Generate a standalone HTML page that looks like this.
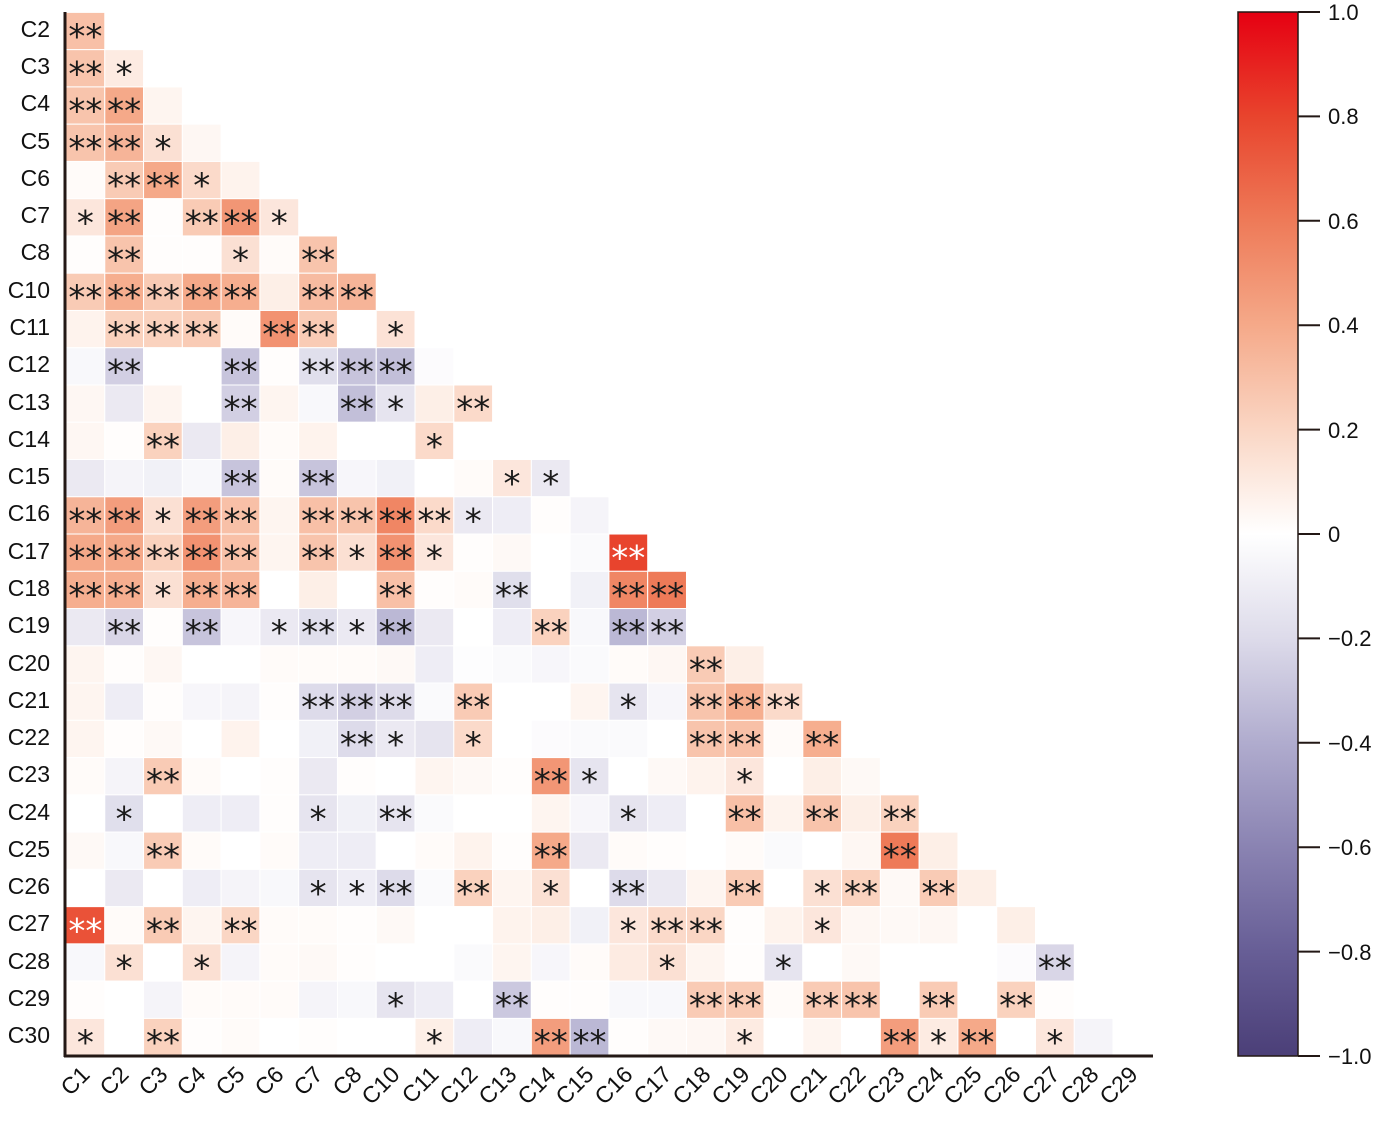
<!DOCTYPE html>
<html><head><meta charset="utf-8">
<style>
html,body{margin:0;padding:0;background:#fff;}
svg{display:block;}
text{font-family:"Liberation Sans",Arial,sans-serif;fill:#111;}
</style></head>
<body>
<svg id="s" width="1382" height="1121" viewBox="0 0 1382 1121" xmlns="http://www.w3.org/2000/svg">
<defs>
<linearGradient id="cb" x1="0" y1="0" x2="0" y2="1">
<stop offset="0" stop-color="#e60012"/>
<stop offset="0.1" stop-color="#e8442d"/>
<stop offset="0.2" stop-color="#ee7a58"/>
<stop offset="0.3" stop-color="#f5a989"/>
<stop offset="0.4" stop-color="#fad6c4"/>
<stop offset="0.5" stop-color="#ffffff"/>
<stop offset="0.6" stop-color="#dddbea"/>
<stop offset="0.7" stop-color="#b0acce"/>
<stop offset="0.8" stop-color="#8a83b2"/>
<stop offset="0.9" stop-color="#675e96"/>
<stop offset="1" stop-color="#4b3f78"/>
</linearGradient>
</defs>
<g id="cells"></g>
<g id="stars"></g>
<line x1="65" y1="12" x2="65" y2="1057" stroke="#231815" stroke-width="3"/>
<line x1="64" y1="1056" x2="1153" y2="1056" stroke="#231815" stroke-width="3"/>
<g font-size="23" text-anchor="end">
<text x="50" y="37">C2</text>
<text x="50" y="74">C3</text>
<text x="50" y="111">C4</text>
<text x="50" y="149">C5</text>
<text x="50" y="186">C6</text>
<text x="50" y="223">C7</text>
<text x="50" y="260">C8</text>
<text x="50" y="298">C10</text>
<text x="50" y="335">C11</text>
<text x="50" y="372">C12</text>
<text x="50" y="410">C13</text>
<text x="50" y="447">C14</text>
<text x="50" y="484">C15</text>
<text x="50" y="521">C16</text>
<text x="50" y="559">C17</text>
<text x="50" y="596">C18</text>
<text x="50" y="633">C19</text>
<text x="50" y="671">C20</text>
<text x="50" y="708">C21</text>
<text x="50" y="745">C22</text>
<text x="50" y="782">C23</text>
<text x="50" y="820">C24</text>
<text x="50" y="857">C25</text>
<text x="50" y="894">C26</text>
<text x="50" y="931">C27</text>
<text x="50" y="969">C28</text>
<text x="50" y="1006">C29</text>
<text x="50" y="1043">C30</text>
</g>
<g font-size="23" text-anchor="end">
<text transform="translate(91,1076) rotate(-45)">C1</text>
<text transform="translate(130,1076) rotate(-45)">C2</text>
<text transform="translate(169,1076) rotate(-45)">C3</text>
<text transform="translate(207,1076) rotate(-45)">C4</text>
<text transform="translate(246,1076) rotate(-45)">C5</text>
<text transform="translate(285,1076) rotate(-45)">C6</text>
<text transform="translate(324,1076) rotate(-45)">C7</text>
<text transform="translate(363,1076) rotate(-45)">C8</text>
<text transform="translate(401,1076) rotate(-45)">C10</text>
<text transform="translate(440,1076) rotate(-45)">C11</text>
<text transform="translate(479,1076) rotate(-45)">C12</text>
<text transform="translate(518,1076) rotate(-45)">C13</text>
<text transform="translate(557,1076) rotate(-45)">C14</text>
<text transform="translate(595,1076) rotate(-45)">C15</text>
<text transform="translate(634,1076) rotate(-45)">C16</text>
<text transform="translate(673,1076) rotate(-45)">C17</text>
<text transform="translate(712,1076) rotate(-45)">C18</text>
<text transform="translate(751,1076) rotate(-45)">C19</text>
<text transform="translate(789,1076) rotate(-45)">C20</text>
<text transform="translate(828,1076) rotate(-45)">C21</text>
<text transform="translate(867,1076) rotate(-45)">C22</text>
<text transform="translate(906,1076) rotate(-45)">C23</text>
<text transform="translate(945,1076) rotate(-45)">C24</text>
<text transform="translate(983,1076) rotate(-45)">C25</text>
<text transform="translate(1022,1076) rotate(-45)">C26</text>
<text transform="translate(1061,1076) rotate(-45)">C27</text>
<text transform="translate(1100,1076) rotate(-45)">C28</text>
<text transform="translate(1139,1076) rotate(-45)">C29</text>
</g>
<rect x="1238" y="12" width="60" height="1044" fill="url(#cb)" stroke="#231815" stroke-width="1.5"/>
<g stroke="#231815" stroke-width="2">
<line x1="1298" y1="12" x2="1320" y2="12"/>
<line x1="1298" y1="116.4" x2="1320" y2="116.4"/>
<line x1="1298" y1="220.8" x2="1320" y2="220.8"/>
<line x1="1298" y1="325.2" x2="1320" y2="325.2"/>
<line x1="1298" y1="429.6" x2="1320" y2="429.6"/>
<line x1="1298" y1="534" x2="1320" y2="534"/>
<line x1="1298" y1="638.4" x2="1320" y2="638.4"/>
<line x1="1298" y1="742.8" x2="1320" y2="742.8"/>
<line x1="1298" y1="847.2" x2="1320" y2="847.2"/>
<line x1="1298" y1="951.6" x2="1320" y2="951.6"/>
<line x1="1298" y1="1056" x2="1320" y2="1056"/>
</g>
<g font-size="22">
<text x="1328" y="20">1.0</text>
<text x="1328" y="124">0.8</text>
<text x="1328" y="229">0.6</text>
<text x="1328" y="333">0.4</text>
<text x="1328" y="438">0.2</text>
<text x="1328" y="542">0</text>
<text x="1328" y="646">−0.2</text>
<text x="1328" y="751">−0.4</text>
<text x="1328" y="855">−0.6</text>
<text x="1328" y="960">−0.8</text>
<text x="1328" y="1064">−1.0</text>
</g>
</svg>
<script>
(function(){
var R=[
"30:2",
"28:2,10:1",
"28:2,40:2,5",
"28:2,35:2,15:1,4",
"2,25:2,40:2,18:1,6",
"12:1,42:2,1,25:2,48:2,12:1",
"1,28:2,1,1,15:1,2,28:2",
"25:2,38:2,25:2,40:2,38:2,8,32:2,35:2",
"6,22:2,22:2,25:2,2,50:2,25:2,0,14:1",
"-4,-25:2,0,0,-30:2,1,-18:2,-30:2,-32:2,-2",
"4,-12,5,0,-25:2,5,-4,-32:2,-15:1,8,18:2",
"4,1,22:2,-12,8,2,6,0,0,18:1,0,0",
"-12,-6,-8,-4,-30:2,2,-30:2,-5,-8,0,2,12:1,-12:1",
"35:2,45:2,15:1,45:2,30:2,5,30:2,28:2,55:2,18:2,-12:1,-10,1,-6",
"40:2,40:2,22:2,50:2,30:2,5,28:2,15:1,50:2,12:1,1,3,0,-3,80:2",
"38:2,38:2,15:1,38:2,35:2,0,8,0,30:2,1,2,-18:2,0,-8,55:2,60:2",
"-12,-22:2,1,-30:2,-5,-12:1,-18:2,-12:1,-35:2,-12,0,-10,22:2,-4,-35:2,-25:2,0",
"5,1,4,0,0,2,2,2,3,-10,-1,-3,-5,-3,2,4,25:2,8",
"5,-10,1,-5,-6,1,-20:2,-25:2,-20:2,-3,25:2,0,0,5,-15:1,-5,28:2,38:2,18:2",
"5,1,3,0,6,0,-8,-20:2,-12:1,-15,18:1,0,-2,-3,-3,0,28:2,30:2,2,38:2",
"2,-6,25:2,2,0,1,-12,1,0,5,3,1,48:2,-15:1,0,3,6,12:1,0,8,3",
"0,-18:1,0,-10,-10,1,-15:1,-8,-15:2,-3,0,0,5,-5,-15:1,-10,0,30:2,6,28:2,8,22:2",
"3,-4,25:2,2,0,2,-10,-10,0,2,6,1,40:2,-12,2,1,0,2,-3,0,4,60:2,8",
"0,-12,0,-10,-6,-4,-15:1,-10:1,-20:2,-3,22:2,5,15:1,0,-20:2,-12,5,25:2,0,15:1,22:2,3,25:2,8",
"75:2,2,25:2,5,20:2,2,2,1,3,0,0,6,8,-8,12:1,18:2,20:2,1,6,12:1,4,3,4,0,8",
"-4,15:1,0,15:1,-6,2,3,1,0,0,-3,5,-5,2,10,15:1,5,1,-15:1,0,3,0,0,0,-2,-22:2",
"1,0,-6,2,2,2,-6,-4,-15:1,-10,0,-28:2,1,1,-4,-4,25:2,25:2,2,25:2,28:2,0,25:2,0,22:2,1,0",
"12:1,0,22:2,1,2,0,1,0,0,8:1,-10,-4,45:2,-35:2,1,3,4,10:1,0,5,0,45:2,10:1,40:2,0,12:1,-6,0"
];
var stops=[[-1,[75,63,120]],[-0.8,[103,94,150]],[-0.6,[138,131,178]],[-0.4,[176,172,206]],[-0.2,[221,219,234]],[0,[255,255,255]],[0.2,[250,214,196]],[0.4,[245,169,137]],[0.6,[238,122,88]],[0.8,[232,68,45]],[1,[230,0,18]]];
function col(v){for(var i=0;i<stops.length-1;i++){var a=stops[i],b=stops[i+1];if(v<=b[0]){var t=(v-a[0])/(b[0]-a[0]);var c=a[1].map(function(x,k){return Math.round(x+(b[1][k]-x)*t);});return "rgb("+c.join(",")+")";}}return "rgb(230,0,18)";}
var NS="http://www.w3.org/2000/svg";
var cg=document.getElementById("cells"),sg=document.getElementById("stars");
var W=38.78,H=37.26,X0=66,Y0=12.4;
R.forEach(function(row,r){row.split(",").forEach(function(e,i){var p=e.split(":");var v=parseFloat(p[0])/100;var s=p[1]?parseInt(p[1]):0;
var x=X0+i*W,y=Y0+r*H;
var rc=document.createElementNS(NS,"rect");rc.setAttribute("x",x);rc.setAttribute("y",y);rc.setAttribute("width",W);rc.setAttribute("height",H);rc.setAttribute("fill",col(v));rc.setAttribute("stroke","#fff");rc.setAttribute("stroke-width","1");cg.appendChild(rc);
if(s){var t=document.createElementNS(NS,"text");t.setAttribute("x",x+W/2);t.setAttribute("y",y+H/2+17);t.setAttribute("text-anchor","middle");t.setAttribute("font-size","34");t.setAttribute("style","font-family:'DejaVu Sans',sans-serif;fill:"+(v>0.7?"#fff":"#1a1a1a"));t.textContent=s==2?"**":"*";sg.appendChild(t);}
});});
})();
</script>
</body></html>
